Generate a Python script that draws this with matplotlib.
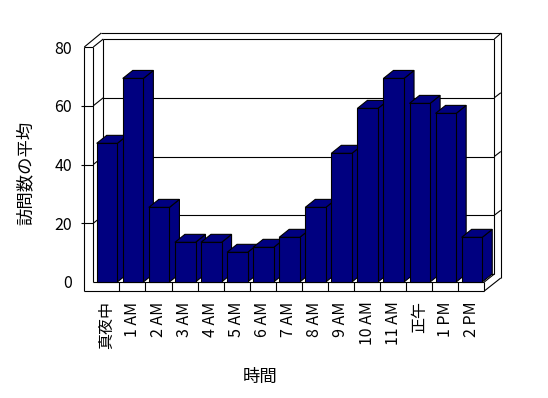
import matplotlib
matplotlib.use("Agg")
import matplotlib.pyplot as plt
from matplotlib.patches import Polygon
import numpy as np

plt.rcParams['font.family'] = ['Noto Sans CJK JP', 'DejaVu Sans']

# data
hours = ["真夜中", "1 AM", "2 AM", "3 AM", "4 AM", "5 AM", "6 AM", "7 AM",
         "8 AM", "9 AM", "10 AM", "11 AM", "正午", "1 PM", "2 PM"]
visits = [47.2, 69.3, 25.4, 13.5, 13.5, 10.1, 11.8, 15.2,
          25.4, 43.8, 59.1, 69.3, 60.8, 57.4, 15.2]
y_ticks = [0, 20, 40, 60, 80]
x_title = "時間"
y_title = "訪問数の平均"

W, H = 548, 398
NAVY = "#000080"
LW = 0.8

fig = plt.figure(figsize=(W / 100, H / 100), dpi=100)
ax = fig.add_axes([93.3 / W, (H - 282) / H, 391 / W, 235 / H])
n = len(hours)
ymax = y_ticks[-1]
ax.set_xlim(0, n)
ax.set_ylim(0, ymax)
for s in ax.spines.values():
    s.set_visible(False)
ax.patch.set_visible(False)

# pixel -> data units
sx = n / 391.0
sy = ymax / 235.0
dx, dy = 10 * sx, 8 * sy      # depth of the box
xw = -9 * sx                  # outer face of the left wall
yb = -9 * sy                  # underside of the floor
top_out = ymax + 14 * sy


def seg(xs, ys, z=1):
    ax.plot(xs, ys, color="k", lw=LW, clip_on=False, zorder=z,
            solid_capstyle="butt")


# left wall slab
seg([xw, xw], [yb, ymax])
seg([xw, 0], [ymax, ymax])
seg([0, 0], [0, ymax])
seg([xw, 8 * sx], [ymax, top_out])
seg([0, dx], [ymax, ymax + dy])
seg([dx, dx], [dy, ymax + dy])
# back wall top and right edge
seg([8 * sx, n + 17 * sx], [top_out, top_out])
seg([dx, n + dx], [ymax + dy, ymax + dy])
seg([n + dx, n + 17 * sx], [ymax + dy, top_out])
seg([n + 16.5 * sx, n + 16.5 * sx], [4 * sy, top_out])
seg([n + dx, n + dx], [dy, ymax + dy])
# floor
seg([xw, n], [yb, yb])
seg([0, n], [0, 0])
seg([dx, n + dx], [dy, dy])
seg([n, n], [yb, 0])
seg([n, n + dx], [0, dy])
seg([n, n + 16.5 * sx], [yb, 4 * sy])
for i in range(1, n):
    seg([i, i], [yb, 0])

# gridlines
for v in y_ticks[1:-1]:
    seg([xw - 3 * sx, 0], [v, v])
    seg([0, dx], [v, v + dy])
    seg([dx, n + dx], [v + dy, v + dy])
    seg([n + dx, n + 16.5 * sx], [v + dy, v + dy + 5 * sy])

# 3d-looking columns
gap, bw = 3.4 * sx, 20.6 * sx
for i, v in enumerate(visits):
    x0 = i + gap
    x1 = x0 + bw
    z = 3 + i * 0.01
    side = Polygon([(x1, 0), (x1 + dx, dy), (x1 + dx, v + dy), (x1, v)],
                   closed=True, facecolor=NAVY, edgecolor="k", lw=LW,
                   zorder=z, clip_on=False)
    top = Polygon([(x0, v), (x1, v), (x1 + dx, v + dy), (x0 + dx, v + dy)],
                  closed=True, facecolor=NAVY, edgecolor="k", lw=LW,
                  zorder=z, clip_on=False)
    ax.add_patch(side)
    ax.add_patch(top)
    ax.bar(x0, v, width=bw, align="edge", color=NAVY, edgecolor="k",
           lw=LW, zorder=z + 0.005, clip_on=False)

ax.set_yticks(y_ticks)
ax.set_yticklabels([str(t) for t in y_ticks])
ax.tick_params(axis="y", length=0, pad=15.3, labelsize=11.5)
ax.set_xticks(np.arange(n) + 0.5)
ax.set_xticklabels(hours, rotation=90, va="top", ha="center")
ax.tick_params(axis="x", length=0, pad=14, labelsize=11.5)

fig.text(26 / W, 1 - 173 / H, y_title, rotation=90, ha="center",
         va="center", fontsize=12.5)
fig.text(260 / W, 1 - 377 / H, x_title, ha="center", va="center",
         fontsize=12.5)

fig.savefig("out.png", dpi=100)
